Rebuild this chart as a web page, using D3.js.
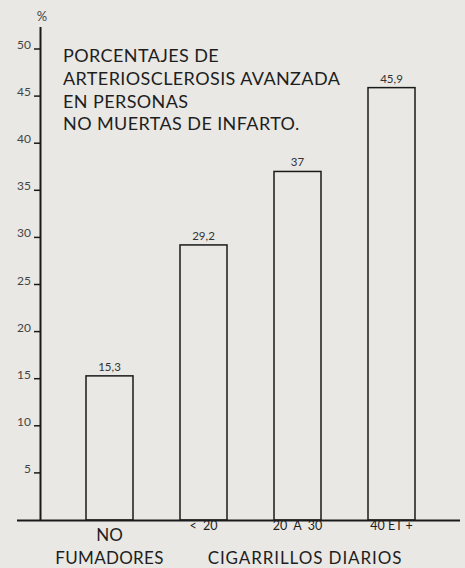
<!DOCTYPE html>
<html>
<head>
<meta charset="utf-8">
<script src="https://cdn.jsdelivr.net/npm/d3@7"></script>
<style>
  body { margin: 0; background: #e9e8e4; }
  svg { display: block; }
  text { font-family: "Lato", "DejaVu Sans", sans-serif; fill: #1e1e1e; }
</style>
</head>
<body>
<div class="chart"></div>
<script>
// data
var categories = ["NO", "<  20", "20  A  30", "40 ET +"]
var values = [15.3, 29.2, 37, 45.9]
var yTicks = [5, 10, 15, 20, 25, 30, 35, 40, 45, 50]
var titleLines = ["PORCENTAJES DE", "ARTERIOSCLEROSIS AVANZADA", "EN PERSONAS", "NO MUERTAS DE INFARTO."]

var width = 465, height = 568
var svg = d3.select(".chart").append("svg")
    .attr("width", width)
    .attr("height", height)

var x = d3.scaleBand().domain(categories).range([39, 462]).padding(0.5)
var y = d3.scaleLinear().domain([0, 50]).range([520, 49])

// y axis line + ticks
svg.append("line")
    .attr("x1", 40.5).attr("x2", 40.5)
    .attr("y1", 27).attr("y2", y(0))
    .attr("stroke", "#1a1a1a").attr("stroke-width", 2)

var tk = svg.selectAll(".tick").data(yTicks).enter().append("g")
tk.append("line")
    .attr("x1", 34).attr("x2", 40)
    .attr("y1", function(d) { return y(d) }).attr("y2", function(d) { return y(d) })
    .attr("stroke", "#1a1a1a").attr("stroke-width", 1.5)
tk.append("text")
    .attr("x", 31).attr("y", function(d) { return y(d) })
    .attr("text-anchor", "end")
    .attr("font-size", 12)
    .style("fill", "#444")
    .text(function(d) { return d })

svg.append("text")
    .attr("x", 42).attr("y", 21)
    .attr("text-anchor", "middle")
    .attr("font-size", 13)
    .style("fill", "#444")
    .text("%")

// bars (outlined)
svg.selectAll(".bar").data(values).enter().append("rect")
    .attr("x", function(d, i) { return x(categories[i]) })
    .attr("y", function(d) { return y(d) })
    .attr("width", x.bandwidth())
    .attr("height", function(d) { return y(0) - y(d) })
    .attr("fill", "none")
    .attr("stroke", "#1a1a1a")
    .attr("stroke-width", 1.5)

svg.selectAll(".val").data(values).enter().append("text")
    .attr("x", function(d, i) { return x(categories[i]) + x.bandwidth() / 2 })
    .attr("y", function(d) { return y(d) - 5 })
    .attr("text-anchor", "middle")
    .attr("font-size", 11.5)
    .style("fill", "#333")
    .text(function(d) { return String(d).replace(".", ",") })

// baseline
svg.append("line")
    .attr("x1", 17).attr("x2", 460)
    .attr("y1", y(0) + 0.5).attr("y2", y(0) + 0.5)
    .attr("stroke", "#1a1a1a").attr("stroke-width", 2)

// category labels
svg.selectAll(".cat").data(categories).enter().append("text")
    .attr("x", function(d) { return x(d) + x.bandwidth() / 2 })
    .attr("y", function(d, i) { return i == 0 ? 541 : 530 })
    .attr("text-anchor", "middle")
    .attr("font-size", function(d, i) { return i == 0 ? 17 : 12.5 })
    .style("white-space", "pre")
    .text(function(d) { return d })

svg.append("text")
    .attr("x", x(categories[0]) + x.bandwidth() / 2).attr("y", 564)
    .attr("text-anchor", "middle").attr("font-size", 17)
    .attr("letter-spacing", 0.3)
    .text("FUMADORES")
svg.append("text")
    .attr("x", 305).attr("y", 564)
    .attr("text-anchor", "middle").attr("font-size", 17)
    .attr("letter-spacing", 0.9)
    .text("CIGARRILLOS DIARIOS")

// title block
svg.selectAll(".title").data(titleLines).enter().append("text")
    .attr("x", 63)
    .attr("y", function(d, i) { return 62 + i * 22.8 })
    .attr("font-size", 18)
    .attr("letter-spacing", 0.4)
    .text(function(d) { return d })
</script>
</body>
</html>
